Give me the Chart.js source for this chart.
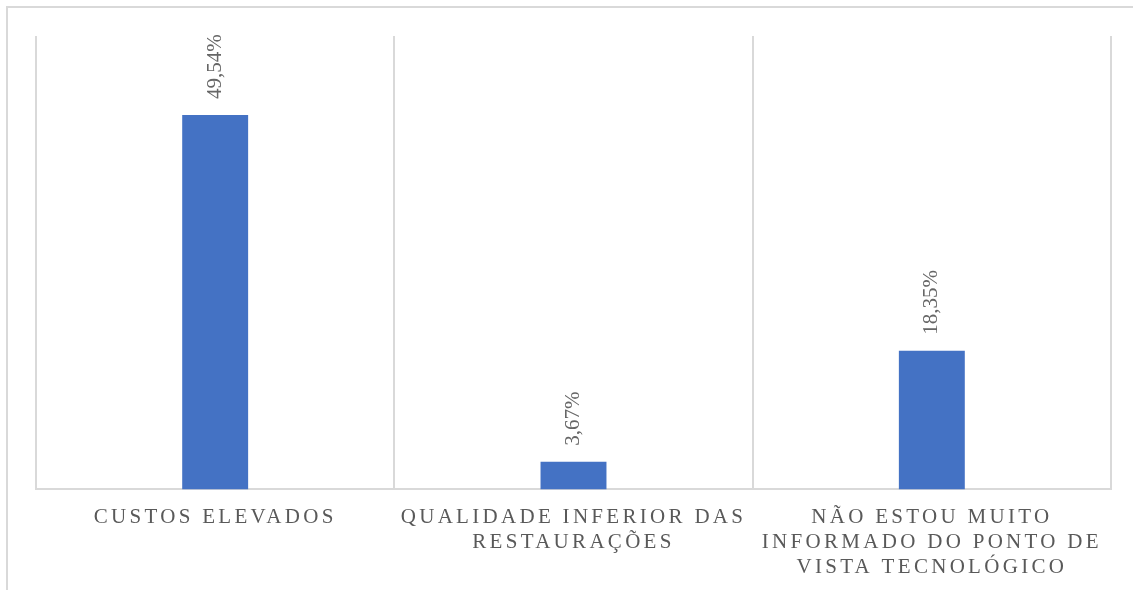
<!DOCTYPE html>
<html>
<head>
<meta charset="utf-8">
<script src="https://cdn.jsdelivr.net/npm/chart.js@4"></script>
<style>
  html, body { margin: 0; padding: 0; background: #fff; overflow: hidden; }
  #wrap { position: relative; width: 1133px; height: 590px; }
  #frame { position: absolute; left: 6px; top: 6px; width: 2000px; height: 2000px;
           border: 2px solid #d9d9d9; box-sizing: border-box; }
  #graph_canvas { position: absolute; left: 0; top: 0; }
</style>
</head>
<body>
<div id="wrap">
  <div id="frame"></div>
  <canvas id="graph_canvas" width="1133" height="590"></canvas>
</div>
<script>
const categories = [
  'CUSTOS ELEVADOS',
  ['QUALIDADE INFERIOR DAS', 'RESTAURAÇÕES'],
  ['NÃO ESTOU MUITO', 'INFORMADO DO PONTO DE', 'VISTA TECNOLÓGICO']
];
const values = [49.54, 3.67, 18.35];
const valueLabels = ['49,54%', '3,67%', '18,35%'];

const serif = '"Times New Roman", "Liberation Serif", serif';
const grey = '#595959';

const ctx = document.getElementById('graph_canvas');

// letter spacing for the category labels only
const spacing = {
  id: 'spacing',
  beforeDraw(chart) { chart.ctx.letterSpacing = '3.3px'; },
  beforeDatasetsDraw(chart) { chart.ctx.letterSpacing = '0px'; }
};

// rotated value labels above each bar
const valueText = {
  id: 'valueText',
  afterDatasetsDraw(chart) {
    const c = chart.ctx;
    const meta = chart.getDatasetMeta(0);
    c.save();
    c.font = '21px ' + serif;
    c.fillStyle = '#666666';
    c.textAlign = 'left';
    c.textBaseline = 'middle';
    meta.data.forEach((bar, i) => {
      c.save();
      c.translate(bar.x, bar.y - 16);
      c.rotate(-Math.PI / 2);
      c.fillText(valueLabels[i], 0, 0);
      c.restore();
    });
    c.restore();
  }
};

const data = {
  labels: categories,
  datasets: [{
    data: values,
    backgroundColor: '#4472c4',
    borderWidth: 0,
    barPercentage: 0.184,
    categoryPercentage: 1
  }]
};

const config = {
  type: 'bar',
  data: data,
  plugins: [spacing, valueText],
  options: {
    responsive: false,
    animation: false,
    layout: { padding: { left: 36, right: 22, top: 36, bottom: -5 } },
    plugins: { legend: { display: false }, tooltip: { enabled: false } },
    scales: {
      x: {
        grid: { color: '#d9d9d9', lineWidth: 2, drawTicks: false, offset: true },
        border: { color: '#d9d9d9', width: 2 },
        ticks: {
          color: grey,
          font: { family: serif, size: 21, lineHeight: 1.2 },
          maxRotation: 0,
          autoSkip: false,
          padding: 15
        }
      },
      y: {
        display: false,
        min: 0,
        max: 60
      }
    }
  }
};

var myChart = new Chart(ctx, config);
</script>
</body>
</html>
